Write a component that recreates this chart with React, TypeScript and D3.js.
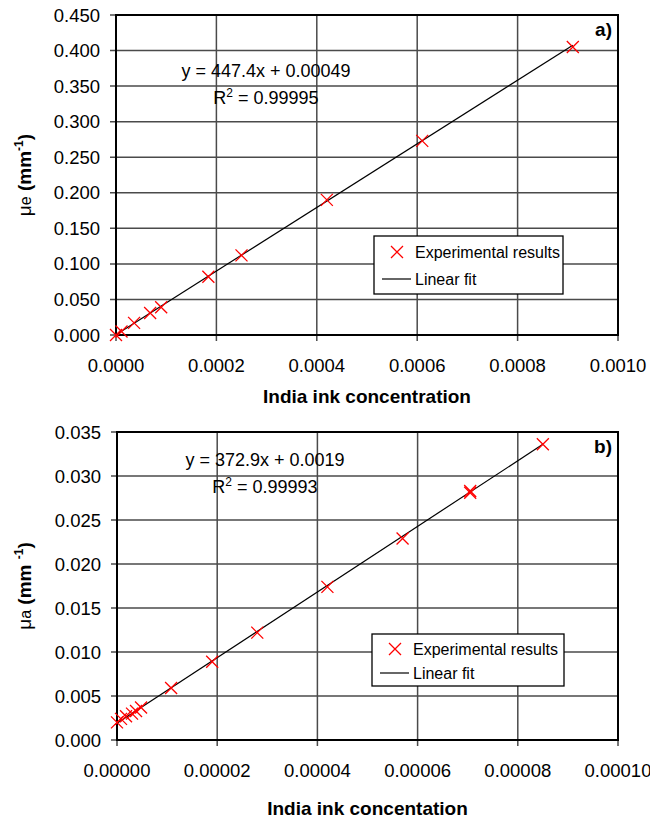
import React from "react";
import * as d3 from "d3";

// Panel a) data
const topX = [0, 0.000011, 0.000036, 0.000068, 0.00009, 0.000184, 0.00025, 0.00042, 0.00061, 0.00091];
const topY = [0, 0.005, 0.017, 0.031, 0.039, 0.082, 0.112, 0.19, 0.273, 0.405];
const topSlope = 447.4;
const topIntercept = 0.00049;
const topXTicks = [0, 0.0002, 0.0004, 0.0006, 0.0008, 0.001];
const topYTicks = [0, 0.05, 0.1, 0.15, 0.2, 0.25, 0.3, 0.35, 0.4, 0.45];

// Panel b) data
const botX = [0, 0.0000008, 0.0000018, 0.000003, 0.0000038, 0.0000048, 0.0000108, 0.000019, 0.000028, 0.000042, 0.000057, 0.0000705, 0.0000705, 0.000085];
const botY = [0.002, 0.0024, 0.0027, 0.003, 0.0033, 0.0037, 0.0059, 0.0089, 0.0122, 0.0174, 0.0229, 0.0281, 0.0283, 0.0336];
const botSlope = 372.9;
const botIntercept = 0.0019;
const botXTicks = [0, 0.00002, 0.00004, 0.00006, 0.00008, 0.0001];
const botYTicks = [0, 0.005, 0.01, 0.015, 0.02, 0.025, 0.03, 0.035];

const FONT = "'Liberation Sans', Arial, sans-serif";

function Cross({ x, y, s = 6 }: { x: number; y: number; s?: number }) {
  return (
    <path
      d={`M${x - s},${y - s}L${x + s},${y + s}M${x - s},${y + s}L${x + s},${y - s}`}
      stroke="#ff0000"
      strokeWidth={1.3}
      fill="none"
    />
  );
}

type PanelProps = {
  xs: number[];
  ys: number[];
  slope: number;
  intercept: number;
  xTicks: number[];
  yTicks: number[];
  xDigits: number;
  yDigits: number;
  left: number;
  right: number;
  top: number;
  bottom: number;
  eq: string;
  r2: string;
  eqX: number;
  eqY: number;
  r2Y: number;
  letter: string;
  yLetter: string;
  ySpace: string;
  xTitle: string;
  xTitleOffset: number;
  legend: { x0: number; y0: number; x1: number; y1: number; r1: number; r2: number };
};

function Panel(p: PanelProps) {
  const x = d3.scaleLinear().domain([p.xTicks[0], p.xTicks[p.xTicks.length - 1]]).range([p.left, p.right]);
  const y = d3.scaleLinear().domain([p.yTicks[0], p.yTicks[p.yTicks.length - 1]]).range([p.bottom, p.top]);
  const xMax = d3.max(p.xs) as number;
  const fit = d3.line<number>().x((d) => x(d)).y((d) => y(p.slope * d + p.intercept));
  const lg = p.legend;
  return (
    <g fontFamily={FONT}>
      {p.yTicks.map((t, i) => (
        <line key={"gy" + i} x1={p.left - 6} x2={p.right} y1={y(t)} y2={y(t)} stroke="#4a4a4a" strokeWidth={1.5} />
      ))}
      {p.xTicks.map((t, i) => (
        <line key={"gx" + i} x1={x(t)} x2={x(t)} y1={p.top} y2={p.bottom + 6} stroke="#4a4a4a" strokeWidth={1.5} />
      ))}
      <rect x={p.left} y={p.top} width={p.right - p.left} height={p.bottom - p.top} fill="none" stroke="#000" strokeWidth={2} />
      {p.yTicks.map((t, i) => (
        <text key={"ly" + i} x={p.left - 16} y={y(t) + 6.5} fontSize={18.5} textAnchor="end" fill="#000">
          {t.toFixed(p.yDigits)}
        </text>
      ))}
      {p.xTicks.map((t, i) => (
        <text key={"lx" + i} x={x(t)} y={p.bottom + 37} fontSize={18.5} textAnchor="middle" fill="#000">
          {t.toFixed(p.xDigits)}
        </text>
      ))}
      <path d={fit([0, xMax]) || ""} stroke="#000" strokeWidth={1.2} fill="none" />
      {p.xs.map((d, i) => (
        <Cross key={"pt" + i} x={x(d)} y={y(p.ys[i])} />
      ))}
      <text x={p.eqX} y={p.eqY} fontSize={18} textAnchor="middle">{p.eq}</text>
      <text x={p.eqX} y={p.r2Y} fontSize={18} textAnchor="middle">
        R<tspan dy={-7} fontSize={12}>2</tspan>
        <tspan dy={7}>{" = " + p.r2}</tspan>
      </text>
      <text x={p.right - 6} y={p.top + 21} fontSize={19} fontWeight="bold" textAnchor="end">{p.letter}</text>
      <rect x={lg.x0} y={lg.y0} width={lg.x1 - lg.x0} height={lg.y1 - lg.y0} fill="#fff" stroke="#000" strokeWidth={1.3} />
      <Cross x={lg.x0 + 23} y={lg.r1} />
      <text x={lg.x0 + 41} y={lg.r1 + 6} fontSize={16}>Experimental results</text>
      <line x1={lg.x0 + 8} x2={lg.x0 + 37} y1={lg.r2} y2={lg.r2} stroke="#000" strokeWidth={1.2} />
      <text x={lg.x0 + 41} y={lg.r2 + 6} fontSize={16}>Linear fit</text>
      <text x={(p.left + p.right) / 2} y={p.bottom + p.xTitleOffset} fontSize={19} fontWeight="bold" textAnchor="middle">
        {p.xTitle}
      </text>
      <text
        transform={`translate(31,${(p.top + p.bottom) / 2}) rotate(-90)`}
        fontSize={19}
        fontWeight="bold"
        textAnchor="middle"
      >
        <tspan fontWeight="normal">μ</tspan>
        <tspan fontWeight="normal" fontSize={16}>{p.yLetter}</tspan>
        <tspan>{" (mm" + p.ySpace}</tspan>
        <tspan dy={-8} fontSize={12}>-1</tspan>
        <tspan dy={8}>)</tspan>
      </text>
    </g>
  );
}

export default function App() {
  return (
    <svg width={650} height={820} style={{ position: "absolute", left: 0, top: 0, background: "#fff" }}>
      <rect width={650} height={820} fill="#fff" />
      <Panel
        xs={topX}
        ys={topY}
        slope={topSlope}
        intercept={topIntercept}
        xTicks={topXTicks}
        yTicks={topYTicks}
        xDigits={4}
        yDigits={3}
        left={116}
        right={618}
        top={15}
        bottom={335}
        eq="y = 447.4x + 0.00049"
        r2="0.99995"
        eqX={266}
        eqY={77}
        r2Y={104}
        letter="a)"
        yLetter="e"
        ySpace=""
        xTitle="India ink concentration"
        xTitleOffset={68}
        legend={{ x0: 374, y0: 236, x1: 563, y1: 294, r1: 252, r2: 279 }}
      />
      <Panel
        xs={botX}
        ys={botY}
        slope={botSlope}
        intercept={botIntercept}
        xTicks={botXTicks}
        yTicks={botYTicks}
        xDigits={5}
        yDigits={3}
        left={117}
        right={618}
        top={432}
        bottom={740}
        eq="y = 372.9x + 0.0019"
        r2="0.99993"
        eqX={265}
        eqY={466}
        r2Y={493}
        letter="b)"
        yLetter="a"
        ySpace=" "
        xTitle="India ink concentation"
        xTitleOffset={75}
        legend={{ x0: 372, y0: 634, x1: 564, y1: 686, r1: 649, r2: 673 }}
      />
    </svg>
  );
}
